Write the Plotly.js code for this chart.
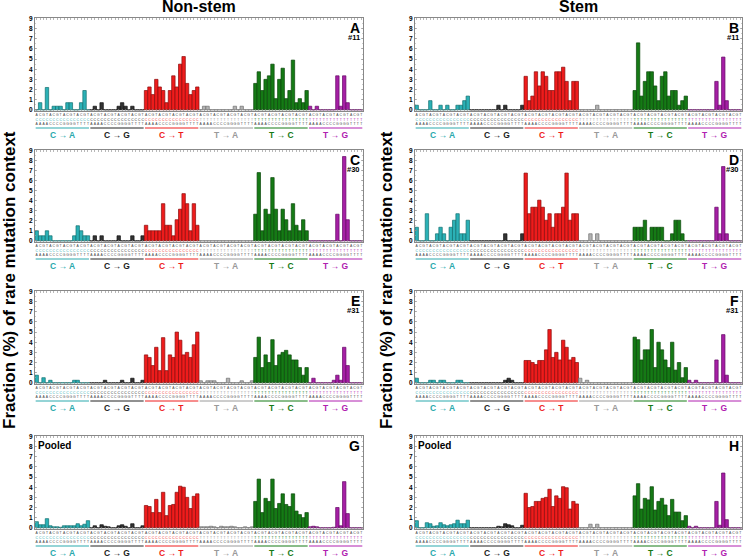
<!DOCTYPE html>
<html><head><meta charset="utf-8">
<script src="https://cdn.plot.ly/plotly-3.0.1.min.js"></script>
<style>body{margin:0;padding:0;background:#fff}#chart{width:747px;height:558px}</style>
</head><body><div id="chart"></div>
<script>
const mutationTypes = ['C → A','C → G','C → T','T → A','T → C','T → G'];
const refBase = ['C','C','C','T','T','T'];
const bases = ['A','C','G','T'];
const panelIds = ['A','B','C','D','E','F','G','H'];
const sampleLabels = ['#11','#11','#30','#30','#31','#31','Pooled','Pooled'];
const columnTitles = ['Non-stem','Stem'];
const yTitle = 'Fraction (%) of rare mutation context';

// Panel A (Non-stem, #11)
const A_CA = [0,0.7,0,2.2,0,0.35,0.35,0.35,0,0.7,0.7,0,0,0.7,1.9,0];
const A_CG = [0,0.35,0,0.7,0,0,0,0,0.35,0.7,0.35,0,0.35,0,0,0];
const A_CT = [1.9,2.25,1.5,3.0,2.25,1.9,0.7,1.9,3.35,2.25,4.5,5.25,2.6,1.5,1.9,2.25];
const A_TA = [0,0.35,0.35,0,0,0,0,0,0,0,0.35,0,0.35,0,0,0];
const A_TC = [2.6,3.75,1.9,3.0,3.35,4.5,1.1,3.0,4.1,1.1,1.9,4.9,0.7,1.1,0.7,1.9];
const A_TG = [0.35,0,0.35,0,0,0,0,0,3.35,0.35,3.35,0.7,0,0,0,0];
// Panel B (Stem, #11)
const B_CA = [0.45,0,0,0,0.9,0,0,0.45,0,0.45,0,0,0.45,0.45,0.9,1.35];
const B_CG = [0,0,0,0,0,0,0,0,0.45,0,0.45,0,0,0,0,0.45];
const B_CT = [3.3,0.9,1.35,3.75,2.35,3.75,3.3,1.9,1.9,3.75,3.75,4.2,2.8,0.9,2.8,2.8];
const B_TA = [0,0,0,0,0,0.45,0,0,0,0,0,0,0,0,0,0];
const B_TC = [1.9,6.6,1.35,2.8,3.75,3.75,2.35,0.9,3.3,3.75,1.35,1.9,1.9,0.45,0.9,1.35];
const B_TG = [0,0,0,0,0,0,0,0,2.8,0.45,5.2,0.9,0,0,0,0];
// Panel C (Non-stem, #30)
const C_CA = [1.0,0.5,0.5,1.0,0.5,0,0,0,0,0,0,0.5,1.5,1.0,0.5,0.5];
const C_CG = [0,0.5,0,0.5,0,0,0,0,0.5,0,0,0,0.5,0,0,0.5];
const C_CT = [1.55,1.0,1.0,1.0,1.0,3.7,1.55,1.55,0.5,2.1,3.15,4.7,3.7,1.0,3.7,1.55];
const C_TA = [0,0,0,0,0,0,0,0,0,0,0,0,0,0,0,0];
const C_TC = [2.65,6.8,1.0,3.15,2.65,6.3,3.15,1.0,3.15,2.1,1.0,3.7,1.55,1.0,2.1,1.0];
const C_TG = [0,0,0,0,0,0,0,0,2.65,0,8.4,2.1,0,0,0,0];
// Panel D (Stem, #30)
const D_CA = [1.35,0,0,2.7,0,0,0.7,1.35,0.7,0,1.35,2.05,2.7,0.7,0.7,2.05];
const D_CG = [0,0,0,0,0,0,0,0,0,0,0.7,0,0,0,0,0.7];
const D_CT = [6.75,2.7,3.35,3.35,4.05,3.35,2.05,2.7,1.35,2.7,2.7,3.35,6.75,2.05,2.7,2.7];
const D_TA = [0,0,0,0.7,0,0.7,0,0,0,0,0,0,0,0,0,0];
const D_TC = [1.35,1.35,1.35,2.05,0,1.35,1.35,1.35,1.35,0,0,0.7,2.05,2.05,0.7,0];
const D_TG = [0,0,0,0,0,0,0,0,3.35,0.7,7.4,0.7,0,0,0,0];
// Panel E (Non-stem, #31)
const E_CA = [0.75,0,0.5,0,0.25,0,0,0,0,0,0,0.25,0.25,0,0,0];
const E_CG = [0,0,0,0,0.25,0,0,0,0,0.25,0,0,0.45,0,0,0.25];
const E_CT = [2.75,2.5,1.7,3.5,1.2,4.45,1.2,2.75,2.5,5.0,4.2,2.75,3.0,2.5,3.75,5.0];
const E_TA = [0.2,0,0.2,0.2,0.2,0,0,0,0.45,0,0,0,0.2,0,0,0.2];
const E_TC = [2.5,4.5,1.5,2.75,2.0,4.25,1.7,2.75,3.0,3.2,2.75,2.25,2.25,1.5,0.75,1.5];
const E_TG = [0,0.45,0,0,0,0,0,0.25,0.75,0.25,3.5,1.7,0,0,0,0];
// Panel F (Stem, #31)
const F_CA = [0.45,0,0,0,0.25,0.25,0,0.25,0.25,0,0,0,0.25,0.25,0,0];
const F_CG = [0,0,0,0,0,0,0,0,0,0,0.25,0.45,0.25,0,0,0];
const F_CT = [2.2,2.2,2.0,1.8,2.2,2.2,3.25,5.25,2.5,3.0,2.25,4.2,3.5,2.25,2.5,2.0];
const F_TA = [0.45,0,0.25,0,0,0,0,0,0,0,0,0,0,0,0,0];
const F_TC = [4.5,4.25,2.25,3.25,3.25,5.25,1.5,4.0,3.25,2.25,1.5,4.0,1.25,2.0,0.5,1.5];
const F_TG = [0.25,0,0.25,0,0,0,0,0,2.25,0,4.75,0.75,0,0,0,0];
// Panel G (Non-stem, pooled)
const G_CA = [0.6,0.3,0.3,0.9,0.2,0.1,0.1,0.05,0.2,0.2,0.2,0.2,0.4,0.2,0.35,0.7];
const G_CG = [0,0.2,0,0.3,0.15,0.1,0,0,0.2,0.3,0.15,0,0.4,0,0,0.2];
const G_CT = [2.2,2.1,1.5,2.8,1.5,3.5,1.2,2.2,2.3,3.5,4.1,4.0,3.0,1.9,3.1,3.35];
const G_TA = [0.1,0.1,0.1,0.15,0.1,0,0.15,0.1,0.1,0.15,0.1,0,0,0.1,0,0.1];
const G_TC = [2.6,4.8,1.5,2.9,2.6,4.8,1.9,2.4,3.35,2.3,2.1,3.35,1.65,1.3,1.0,1.5];
const G_TG = [0.1,0.15,0.1,0,0,0,0,0.05,2.0,0.2,4.55,1.4,0,0,0,0];
// Panel H (Stem, pooled)
const H_CA = [0.7,0,0,0.5,0.4,0.15,0.2,0.5,0.3,0.2,0.3,0.4,0.75,0.4,0.4,0.75];
const H_CG = [0,0,0,0,0,0,0,0,0.15,0.1,0.4,0.3,0.2,0,0,0.25];
const H_CT = [3.4,2.0,2.1,2.6,2.6,2.9,3.0,3.8,2.1,3.15,2.9,4.05,3.95,1.85,2.6,2.35];
const H_TA = [0,0,0,0.35,0,0.35,0,0,0,0,0,0,0,0,0,0];
const H_TC = [3.15,4.35,1.85,2.9,2.75,4.05,1.75,2.6,2.9,2.25,1.2,2.8,1.55,1.55,0.7,1.2];
const H_TG = [0.15,0,0.15,0,0,0,0,0,2.6,0.25,5.4,0.8,0,0,0,0];

const panelData = [
  [A_CA,A_CG,A_CT,A_TA,A_TC,A_TG],
  [B_CA,B_CG,B_CT,B_TA,B_TC,B_TG],
  [C_CA,C_CG,C_CT,C_TA,C_TC,C_TG],
  [D_CA,D_CG,D_CT,D_TA,D_TC,D_TG],
  [E_CA,E_CG,E_CT,E_TA,E_TC,E_TG],
  [F_CA,F_CG,F_CT,F_TA,F_TC,F_TG],
  [G_CA,G_CG,G_CT,G_TA,G_TC,G_TG],
  [H_CA,H_CG,H_CT,H_TA,H_TC,H_TG]
];

const fillColors = ['#2bb1b6','#333333','#ee1c1c','#b3b3b3','#157a15','#a51fa5'];
const lineColors = ['#137070','#111111','#8a0c0c','#707070','#0b480b','#660a66'];
const labelColors = ['#2aa9ad','#222222','#ee1c1c','#9a9a9a','#157a15','#b021b0'];

// pixel boxes of plot areas
const W = 747, Hh = 558;
const colX = [[35,363],[415,742]];
const rowY = [[18,111],[150,242],[291,384],[436,529]];

const data = [], shapes = [], annotations = [];
const layout = {
  width: W, height: Hh, margin:{l:0,r:0,t:0,b:0},
  paper_bgcolor:'#fff', plot_bgcolor:'#fff', showlegend:false,
  bargap:0, font:{family:'Liberation Sans, Arial, sans-serif', color:'#000'}
};

for (let k=0;k<8;k++){
  const col = k%2, row = Math.floor(k/2);
  const xa = k===0 ? 'x' : 'x'+(k+1);
  const ya = k===0 ? 'y' : 'y'+(k+1);
  const xk = k===0 ? 'xaxis' : 'xaxis'+(k+1);
  const yk = k===0 ? 'yaxis' : 'yaxis'+(k+1);
  const xs=[], ys=[], fc=[], lc=[], tv=[], tt=[];
  panelData[k].forEach((arr,g)=>{
    arr.forEach((v,i)=>{
      const xi = g*16+i;
      xs.push(xi); ys.push(v); fc.push(fillColors[g]); lc.push(lineColors[g]);
      tv.push(xi);
      tt.push('<span style="color:#444">'+bases[i%4]+'</span><br>'+
              '<span style="color:'+labelColors[g]+'">'+refBase[g]+'</span><br>'+
              '<span style="color:#444">'+bases[Math.floor(i/4)]+'</span>');
    });
  });
  data.push({type:'bar', x:xs, y:ys, xaxis:xa, yaxis:ya, width:1,
    marker:{color:fc, line:{color:lc, width:0.7}}, hoverinfo:'skip'});
  const [x0,x1] = colX[col], [yt,yb] = rowY[row];
  layout[xk] = {domain:[x0/W, x1/W], anchor:ya, range:[-0.5,95.5],
    tickvals:tv, ticktext:tt, tickangle:0, tickfont:{size:3.4, color:'#444'},
    ticks:'inside', ticklen:2, tickwidth:0.6, tickcolor:'#888',
    showline:true, linecolor:'#888', linewidth:1, mirror:'ticks',
    showgrid:false, zeroline:false, fixedrange:true, automargin:false};
  layout[yk] = {domain:[1-yb/Hh, 1-yt/Hh], anchor:xa, range:[-0.12,9.05],
    tickvals:[0,1,2,3,4,5,6,7,8,9], tickfont:{size:6.5, weight:'bold', color:'#000'},
    ticks:'inside', ticklen:2, tickwidth:0.6, tickcolor:'#888',
    minor:{ticks:'inside', ticklen:1, dtick:0.5, tickcolor:'#aaa'},
    showline:true, linecolor:'#888', linewidth:1, mirror:'ticks',
    showgrid:false, zeroline:false, fixedrange:true, automargin:false};
  const h = yb-yt;
  for (let g=0; g<6; g++){
    shapes.push({type:'line', xref:xa, yref:ya+' domain', x0:g*16-0.3, x1:g*16+15.3,
      y0:-17/h, y1:-17/h, line:{color:labelColors[g], width:1}});
    annotations.push({text:mutationTypes[g], xref:xa, yref:ya+' domain', x:g*16+7.5, y:-23.5/h,
      showarrow:false, xanchor:'center', yanchor:'middle',
      font:{size:8.5, weight:'bold', color:labelColors[g]}});
  }
  annotations.push({text:panelIds[k], xref:xa+' domain', yref:ya+' domain', x:1, y:1,
    xanchor:'right', yanchor:'top', xshift:-1, yshift:0, showarrow:false,
    font:{size:14, weight:'bold', color:'#000'}});
  if (sampleLabels[k]==='Pooled'){
    annotations.push({text:'Pooled', xref:xa+' domain', yref:ya+' domain', x:0, y:1,
      xanchor:'left', yanchor:'top', xshift:1, yshift:-2, showarrow:false,
      font:{size:10, weight:'bold', color:'#000'}});
  } else {
    annotations.push({text:sampleLabels[k], xref:xa+' domain', yref:ya+' domain', x:1, y:1,
      xanchor:'right', yanchor:'top', xshift:-1, yshift:-13, showarrow:false,
      font:{size:7.5, weight:'bold', color:'#000'}});
  }
}
annotations.push({text:columnTitles[0], xref:'paper', yref:'paper', x:199/W, y:1-7/Hh,
  xanchor:'center', yanchor:'middle', showarrow:false, font:{size:16, weight:'bold'}});
annotations.push({text:columnTitles[1], xref:'paper', yref:'paper', x:578/W, y:1-7/Hh,
  xanchor:'center', yanchor:'middle', showarrow:false, font:{size:16, weight:'bold'}});
[9,386].forEach(px=>{
  annotations.push({text:yTitle, xref:'paper', yref:'paper', x:px/W, y:1-280/Hh,
    xanchor:'center', yanchor:'middle', textangle:-90, showarrow:false,
    font:{size:17, weight:'bold'}});
});
layout.shapes = shapes; layout.annotations = annotations;
Plotly.newPlot('chart', data, layout, {staticPlot:true, displayModeBar:false});
</script></body></html>
